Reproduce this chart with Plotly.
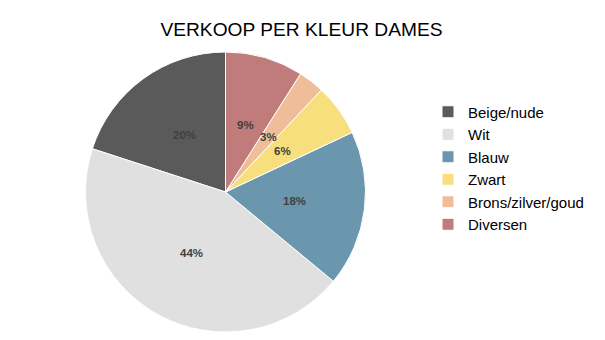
import math
import plotly.graph_objects as go

labels = ["Beige/nude", "Wit", "Blauw", "Zwart", "Brons/zilver/goud", "Diversen"]
values = [20, 44, 18, 6, 3, 9]
colors = ["#5a5a5a", "#e0e0e0", "#6b97ae", "#f8df7d", "#efbd98", "#c07b7b"]

W, H = 605, 340
cx, cy, r = 225.5, 192, 140
total = sum(values)

fig = go.Figure(go.Pie(
    labels=labels, values=values, sort=False, direction="counterclockwise",
    rotation=-values[0] / total * 360,  # first slice starts at 12 o'clock, going counterclockwise
    marker=dict(colors=colors, line=dict(color="white", width=1)),
    textinfo="none",
    domain=dict(x=[(cx - r) / W, (cx + r) / W], y=[(H - cy - r) / H, (H - cy + r) / H]),
    hoverinfo="label+percent",
))

# percentage labels at half radius, at each slice's mid-angle (slices run counterclockwise from 12 o'clock)
cum = 0.0
rl = 0.5 * r
for v in values:
    mid = (cum + v / 2) / total * 2 * math.pi
    cum += v
    px = cx - rl * math.sin(mid)
    py_up = (H - cy) + rl * math.cos(mid)
    fig.add_annotation(
        x=px / W, y=py_up / H, xref="paper", yref="paper",
        text="<b>%d%%</b>" % round(v / total * 100), showarrow=False,
        xanchor="center", yanchor="middle",
        font=dict(family="Liberation Sans, Arial", size=11.5, color="#404040"),
    )

fig.update_layout(
    width=W, height=H,
    margin=dict(l=0, r=0, t=0, b=0),
    paper_bgcolor="white", plot_bgcolor="white",
    font=dict(family="Liberation Sans, Arial", color="black"),
    title=dict(text="VERKOOP PER KLEUR DAMES", x=301.5 / W, xanchor="center",
               y=1 - 29 / H, yanchor="middle", font=dict(size=19.2, color="black")),
    legend=dict(x=428 / W, xanchor="left", y=1 - 168 / H, yanchor="middle",
                font=dict(size=15, color="black"), bgcolor="rgba(0,0,0,0)",
                tracegroupgap=0),
)

fig.write_html("out.html")
